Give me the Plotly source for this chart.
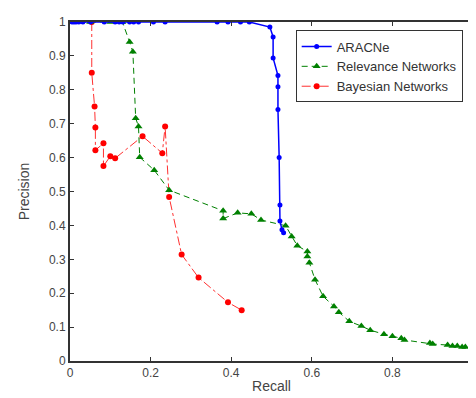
import plotly.graph_objects as go

# ARACNe
aracne_recall = [0.005, 0.01, 0.015, 0.022, 0.032, 0.051, 0.085, 0.112, 0.122, 0.131, 0.148,
                 0.158, 0.170, 0.207, 0.236, 0.365, 0.392, 0.423, 0.445,
                 0.496, 0.504, 0.504, 0.516, 0.516, 0.516, 0.519, 0.521, 0.521, 0.526, 0.530]
aracne_precision = [1, 1, 1, 1, 1, 1, 1, 1, 1, 1, 1,
                    1, 1, 1, 1, 1, 1, 1, 1,
                    0.985, 0.956, 0.894, 0.842, 0.809, 0.742, 0.600, 0.460, 0.413, 0.387, 0.378]

# Relevance Networks
rel_recall = [0.0, 0.05, 0.10, 0.13, 0.148, 0.156, 0.163, 0.170, 0.173, 0.209, 0.246,
              0.380, 0.380, 0.416, 0.450, 0.474, 0.535, 0.550, 0.564, 0.589, 0.589,
              0.594, 0.608, 0.628, 0.655, 0.667, 0.693, 0.723, 0.745, 0.779, 0.800,
              0.822, 0.830, 0.893, 0.900, 0.937, 0.949, 0.961, 0.973, 0.981, 1.0]
rel_precision = [1, 1, 1, 1, 0.941, 0.912, 0.716, 0.692, 0.601, 0.563, 0.504,
                 0.443, 0.420, 0.437, 0.434, 0.416, 0.399, 0.367, 0.340, 0.323, 0.308,
                 0.290, 0.240, 0.191, 0.161, 0.144, 0.117, 0.103, 0.091, 0.079, 0.073,
                 0.067, 0.062, 0.053, 0.050, 0.047, 0.044, 0.044, 0.041, 0.041, 0.040]

# Bayesian Networks
bay_recall = [0.054, 0.054, 0.061, 0.063, 0.063, 0.083, 0.083, 0.100, 0.112, 0.180,
              0.229, 0.236, 0.246, 0.277, 0.319, 0.392, 0.426]
bay_precision = [1.0, 0.850, 0.751, 0.689, 0.622, 0.642, 0.575, 0.604, 0.598, 0.663,
                 0.613, 0.692, 0.484, 0.314, 0.246, 0.173, 0.150]

x_ticks = [0, 0.2, 0.4, 0.6, 0.8, 1]
x_tick_labels = ["0", "0.2", "0.4", "0.6", "0.8", "1"]
y_ticks = [0, 0.1, 0.2, 0.3, 0.4, 0.5, 0.6, 0.7, 0.8, 0.9, 1]
y_tick_labels = ["0", "0.1", "0.2", "0.3", "0.4", "0.5", "0.6", "0.7", "0.8", "0.9", "1"]

fig = go.Figure()
fig.add_trace(go.Scatter(x=bay_recall, y=bay_precision, name="Bayesian Networks",
                         mode="lines+markers", legendrank=3,
                         line=dict(color="#ff3030", width=1, dash="dashdot"),
                         marker=dict(symbol="circle", size=6, color="#ff0000")))
fig.add_trace(go.Scatter(x=rel_recall, y=rel_precision, name="Relevance Networks",
                         mode="lines+markers", legendrank=2,
                         line=dict(color="#008000", width=1, dash="6px,4px"),
                         marker=dict(symbol="triangle-up", size=7, color="#008000")))
fig.add_trace(go.Scatter(x=aracne_recall, y=aracne_precision, name="ARACNe",
                         mode="lines+markers", legendrank=1,
                         line=dict(color="#0000ff", width=1.5),
                         marker=dict(symbol="circle", size=5, color="#0000ff")))

font_family = "Liberation Sans, Arial, sans-serif"
fig.update_layout(
    width=476, height=398,
    margin=dict(l=62, r=7, t=12, b=45),
    paper_bgcolor="white", plot_bgcolor="white",
    font=dict(family=font_family, size=12, color="#444444"),
    showlegend=True,
    legend=dict(x=0.56, y=0.975, xanchor="left", yanchor="top",
                bgcolor="white", bordercolor="#333333", borderwidth=1,
                font=dict(size=13, color="#333333"),
                itemwidth=30, tracegroupgap=0),
    xaxis=dict(range=[0, 1], tickvals=x_ticks, ticktext=x_tick_labels,
               showgrid=False, zeroline=False, showline=True, linecolor="#333333",
               linewidth=2, mirror="ticks", ticks="inside", ticklen=4,
               tickcolor="#333333",
               title=dict(text="Recall", font=dict(size=14, color="#444444"), standoff=2)),
    yaxis=dict(range=[0, 1], tickvals=y_ticks, ticktext=y_tick_labels,
               showgrid=False, zeroline=False, showline=True, linecolor="#333333",
               linewidth=2, mirror="ticks", ticks="inside", ticklen=4,
               tickcolor="#333333",
               title=dict(text="Precision", font=dict(size=14, color="#444444"), standoff=16)),
)

fig.write_html("out.html")
